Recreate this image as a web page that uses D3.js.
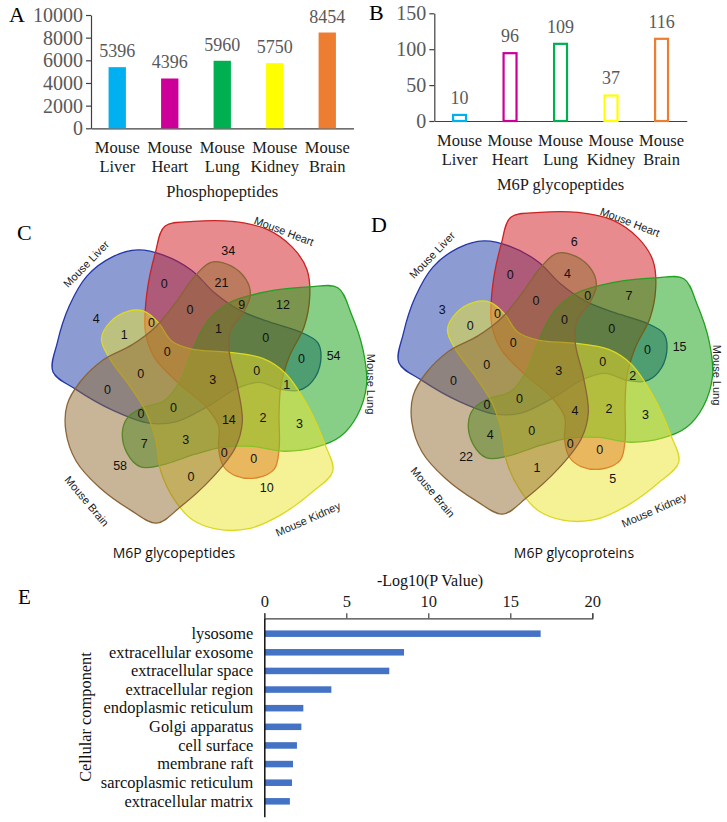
<!DOCTYPE html>
<html lang="en">
<head>
<meta charset="UTF-8">
<title>M6P figure</title>
<script src="https://d3js.org/d3.v7.min.js"></script>
<style>
  body { margin: 0; background: #fff; }
  svg { display: block; }
  .serif { font-family: "Liberation Serif", "Times New Roman", serif; }
  .sans { font-family: "Liberation Sans", Arial, sans-serif; }
</style>
</head>
<body>
<script>
// ---- panels A and B ----
const tissues = ["Mouse Liver", "Mouse Heart", "Mouse Lung", "Mouse Kidney", "Mouse Brain"];
const tissueColors = ["#00b0f0", "#cc0099", "#00b050", "#ffff00", "#ed7d31"];
const phosphopeptides = [5396, 4396, 5960, 5750, 8454];
const phosphoTicks = [0, 2000, 4000, 6000, 8000, 10000];
const glycopeptides = [10, 96, 109, 37, 116];
const glycoTicks = [0, 50, 100, 150];

// ---- panels C and D (5-set venn) ----
// sets go clockwise from the top, k = 0..4
const vennSets = ["Mouse Heart", "Mouse Lung", "Mouse Kidney", "Mouse Brain", "Mouse Liver"];
const vennFill = ["#d01820", "#10a010", "#ebe52d", "#916a2d", "#1a3aa8"];
const vennStroke = ["#cc2222", "#22a022", "#dcd820", "#8a6535", "#2236a8"];

// region counts, one entry per k
// single: only k | pairNext: k,k+1 | pairSkip: k,k+3
// tripleSplit: k,k+1,k+3 | tripleRun: k-1,k,k+1 | quad: all but k+2
const pepSingle = [34, 54, 10, 58, 4];
const pepPairNext = [12, 3, 0, 0, 0];
const pepPairSkip = [21, 0, 0, 7, 1];
const pepTripleSplit = [9, 1, 0, 0, 0];
const pepTripleRun = [0, 2, 3, 0, 0];
const pepQuad = [1, 0, 14, 0, 0];
const pepAll = 3;

const protSingle = [6, 15, 5, 22, 3];
const protPairNext = [7, 3, 1, 0, 0];
const protPairSkip = [4, 0, 0, 4, 0];
const protTripleSplit = [0, 2, 0, 0, 0];
const protTripleRun = [0, 2, 0, 0, 0];
const protQuad = [0, 0, 4, 0, 0];
const protAll = 3;

// ---- panel E ----
const ccTerms = ["lysosome", "extracellular exosome", "extracellular space", "extracellular region",
  "endoplasmic reticulum", "Golgi apparatus", "cell surface", "membrane raft",
  "sarcoplasmic reticulum", "extracellular matrix"];
const ccLogP = [16.85, 8.52, 7.62, 4.09, 2.38, 2.26, 1.99, 1.75, 1.69, 1.56];
const logPTicks = [0, 5, 10, 15, 20];

const W = 727, H = 822;
const svg = d3.select("body").append("svg").attr("width", W).attr("height", H);

const axisGray = "#595959";

function barPanel(opt) {
  const g = svg.append("g");
  const x = d3.scaleBand().domain(tissues).range(opt.xRange)
    .paddingInner(opt.pad).paddingOuter(opt.pad / 2);
  const y = d3.scaleLinear().domain([0, d3.max(opt.ticks)]).range(opt.yRange);

  const ya = g.append("g").attr("transform", `translate(${opt.xRange[0]},0)`)
    .call(d3.axisLeft(y).tickValues(opt.ticks).tickFormat(d3.format("d"))
      .tickSize(5).tickSizeOuter(0).tickPadding(3));
  ya.selectAll("path, line").attr("stroke", "#404040").attr("stroke-width", 1.2);
  ya.selectAll("text").attr("class", "serif").attr("font-size", 20).attr("fill", axisGray);

  const xa = g.append("g").attr("transform", `translate(0,${opt.yRange[0]})`)
    .call(d3.axisBottom(x).tickSize(0).tickSizeOuter(0).tickPadding(0));
  xa.select(".domain").attr("stroke", "#404040").attr("stroke-width", 1.2);
  xa.selectAll(".tick text").text(null).attr("dy", null).attr("y", null)
    .attr("class", "serif").attr("font-size", 16.5).attr("fill", "#1a1a1a")
    .selectAll("tspan").data(d => d.split(" ")).join("tspan")
    .attr("x", 0).attr("y", (d, i) => 25 + i * 18.5).text(d => d);

  const sw = opt.outline ? 2.2 : 0;
  g.selectAll("rect.bar").data(opt.values).join("rect").attr("class", "bar")
    .attr("x", (d, i) => x(tissues[i]) + sw / 2)
    .attr("width", x.bandwidth() - sw)
    .attr("y", d => y(d) + sw / 2)
    .attr("height", d => y(0) - y(d) - sw / 2)
    .attr("fill", (d, i) => opt.outline ? "none" : tissueColors[i])
    .attr("stroke", (d, i) => opt.outline ? tissueColors[i] : "none")
    .attr("stroke-width", sw);

  g.selectAll("text.val").data(opt.values).join("text").attr("class", "val serif")
    .attr("x", (d, i) => x(tissues[i]) + x.bandwidth() / 2)
    .attr("y", d => y(d) - 10)
    .attr("text-anchor", "middle").attr("font-size", 18).attr("fill", axisGray)
    .text(d => d);

  g.append("text").attr("class", "serif")
    .attr("x", (opt.xRange[0] + opt.xRange[1]) / 2).attr("y", opt.yRange[0] + 69)
    .attr("text-anchor", "middle").attr("font-size", 16.5).attr("fill", "#1a1a1a")
    .text(opt.title);

  g.append("text").attr("class", "serif").attr("x", opt.letter[0]).attr("y", opt.letter[1])
    .attr("font-size", 22).text(opt.letterText);
}

barPanel({ values: phosphopeptides, ticks: phosphoTicks, xRange: [91, 353.5], yRange: [128.3, 15],
  pad: 0.67, outline: false, title: "Phosphopeptides", letter: [9, 22], letterText: "A" });
barPanel({ values: glycopeptides, ticks: glycoTicks, xRange: [434.3, 686.8], yRange: [121, 13.3],
  pad: 0.7, outline: true, title: "M6P glycopeptides", letter: [369, 20], letterText: "B" });

// ---- venn geometry (Heart frame, relative to diagram centre) ----
const petal = [[-46, -156], [-16, -161], [24, -161], [60, -153], [87, -134], [102, -111], [105, -84],
  [99, -51], [84, -21], [75, 9], [73, 39], [73, 76], [68, 97], [50, 106], [28, 104], [15, 94],
  [10, 76], [10, 52], [-3, 32], [-30, 9], [-56, -18], [-66, -44], [-65, -84], [-56, -128]];
const spots = { single: [20, -130], pairNext: [77, -74], pairSkip: [13, -97],
  tripleSplit: [34, -74], tripleRun: [59, -40], quad: [10, -49] };
const setLabelPos = [[75, -145, 21], [162, 8, 90], [99, 143, -24], [-122, 125, 50], [-123, -112, -46]];
const vennScale = 0.96;

function rot(p, k) {
  const a = k * 72 * Math.PI / 180;
  return [p[0] * Math.cos(a) - p[1] * Math.sin(a), p[0] * Math.sin(a) + p[1] * Math.cos(a)];
}

function venn(cx, cy, counts, caption, capX, letterText, letterPos) {
  const s = vennScale;
  const g = svg.append("g").attr("transform", `translate(${cx},${cy}) scale(${s})`);
  const line = d3.line().curve(d3.curveCatmullRomClosed.alpha(0.5));
  const order = [4, 0, 1, 2, 3];
  g.selectAll("path.set").data(order).join("path").attr("class", "set")
    .attr("d", k => line(petal.map(p => rot(p, k))))
    .attr("fill", k => vennFill[k]).attr("fill-opacity", 0.5)
    .attr("stroke", k => vennStroke[k]).attr("stroke-width", 1.3 / s);

  const labels = [];
  Object.keys(spots).forEach(key => {
    counts[key].forEach((v, k) => labels.push({ p: rot(spots[key], k), v }));
  });
  labels.push({ p: [4, 4], v: counts.all });
  g.selectAll("text.num").data(labels).join("text").attr("class", "num sans")
    .attr("x", d => d.p[0]).attr("y", d => d.p[1])
    .attr("text-anchor", "middle").attr("dominant-baseline", "central")
    .attr("font-size", 12.5 / s).attr("fill", "#111").text(d => d.v);

  const gl = svg.append("g").attr("transform", `translate(${cx},${cy})`);
  gl.selectAll("text.setname").data(vennSets).join("text").attr("class", "setname sans")
    .attr("transform", (d, k) => `translate(${setLabelPos[k][0]},${setLabelPos[k][1]}) rotate(${setLabelPos[k][2]})`)
    .attr("text-anchor", "middle").attr("dominant-baseline", "central")
    .attr("font-size", 11).attr("fill", "#222").text(d => d);

  svg.append("text").attr("x", capX).attr("y", 558).attr("text-anchor", "middle")
    .style("font-family", "'Open Sans', sans-serif").attr("font-size", 14).attr("fill", "#111")
    .text(caption);
  svg.append("text").attr("class", "serif").attr("x", letterPos[0]).attr("y", letterPos[1])
    .attr("font-size", 22).text(letterText);
}

venn(555, 367, { single: protSingle, pairNext: protPairNext, pairSkip: protPairSkip,
  tripleSplit: protTripleSplit, tripleRun: protTripleRun, quad: protQuad, all: protAll },
  "M6P glycoproteins", 574, "D", [371, 232]);
venn(209, 376, { single: pepSingle, pairNext: pepPairNext, pairSkip: pepPairSkip,
  tripleSplit: pepTripleSplit, tripleRun: pepTripleRun, quad: pepQuad, all: pepAll },
  "M6P glycopeptides", 174, "C", [17, 240]);

// ---- panel E ----
const gE = svg.append("g");
const xE = d3.scaleLinear().domain([0, 20]).range([264.3, 592.3]);
const yE = d3.scaleBand().domain(ccTerms).range([618.3, 816.7]).padding(0.65);

gE.selectAll("rect").data(ccLogP).join("rect")
  .attr("x", xE(0)).attr("y", (d, i) => yE(ccTerms[i]))
  .attr("width", d => xE(d) - xE(0)).attr("height", yE.bandwidth())
  .attr("fill", "#4472c4");

const xaE = gE.append("g").attr("transform", "translate(0,618.3)")
  .call(d3.axisTop(xE).tickValues(logPTicks).tickSize(5).tickSizeOuter(5).tickPadding(6));
xaE.selectAll("path, line").attr("stroke", "#404040").attr("stroke-width", 1.2);
xaE.selectAll("text").attr("class", "serif").attr("font-size", 16.5).attr("fill", "#1a1a1a");

const yaE = gE.append("g").attr("transform", "translate(264.3,0)")
  .call(d3.axisLeft(yE).tickSize(0).tickSizeOuter(0).tickPadding(11));
yaE.select(".domain").attr("stroke", "#111").attr("stroke-width", 1.5);
yaE.selectAll("text").attr("class", "serif").attr("font-size", 16.4).attr("fill", "#111");

gE.append("text").attr("class", "serif").attr("x", 430).attr("y", 586)
  .attr("text-anchor", "middle").attr("font-size", 16).attr("fill", "#111").text("-Log10(P Value)");
gE.append("text").attr("class", "serif").attr("transform", "translate(91,717) rotate(-90)")
  .attr("text-anchor", "middle").attr("font-size", 16.4).attr("fill", "#111").text("Cellular component");
gE.append("text").attr("class", "serif").attr("x", 18).attr("y", 604).attr("font-size", 21).text("E");
</script>
</body>
</html>
